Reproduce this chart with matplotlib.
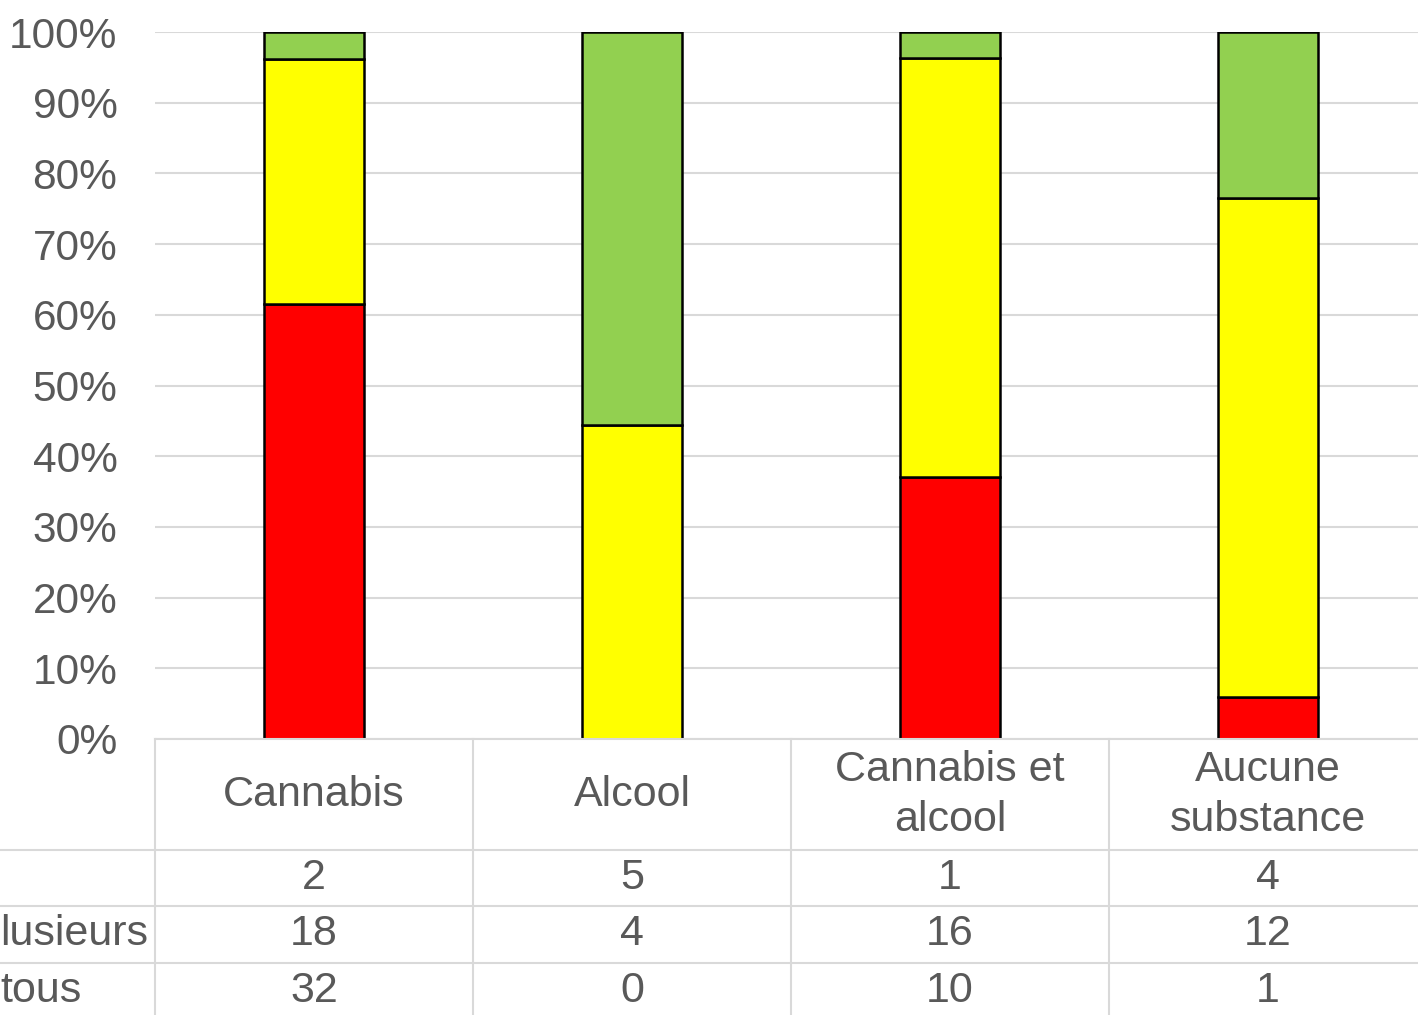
import matplotlib
matplotlib.use("Agg")
import matplotlib.pyplot as plt
from matplotlib.lines import Line2D
import matplotlib.transforms as mtransforms
import numpy as np

categories = ["Cannabis", "Alcool", "Cannabis et\nalcool", "Aucune\nsubstance"]
row_labels = ["", "lusieurs", "tous"]
green_vals = [2, 5, 1, 4]
yellow_vals = [18, 4, 16, 12]
red_vals = [32, 0, 10, 1]
yticks = [0, 10, 20, 30, 40, 50, 60, 70, 80, 90, 100]

colors = {"red": "#FF0000", "yellow": "#FFFF00", "green": "#92D050"}
text_color = "#595959"
grid_color = "#D9D9D9"

plt.rcParams['font.family'] = ['Liberation Sans', 'DejaVu Sans']

W, H = 1418, 1015
fig = plt.figure(figsize=(W / 100, H / 100), dpi=100)

def fy(py):
    return 1 - py / H

# plot area extends slightly past the right edge (cropped chart)
ax = fig.add_axes([155 / W, fy(739), 1272 / W, fy(32) - fy(739)])

g = np.array(green_vals, float)
yv = np.array(yellow_vals, float)
r = np.array(red_vals, float)
tot = g + yv + r
rp, yp, gp = r / tot * 100, yv / tot * 100, g / tot * 100
x = np.arange(len(categories))
bw = 0.315
ax.bar(x, rp, bw, color=colors["red"], edgecolor="black", linewidth=1.8, zorder=3)
ax.bar(x, yp, bw, bottom=rp, color=colors["yellow"], edgecolor="black", linewidth=1.8, zorder=3)
ax.bar(x, gp, bw, bottom=rp + yp, color=colors["green"], edgecolor="black", linewidth=1.8, zorder=3)

ax.set_xlim(-0.5, len(categories) - 0.5)
ax.set_ylim(0, 100)
ax.set_yticks(yticks)
ax.set_yticklabels([f"{t}%" for t in yticks], fontsize=30.5, color=text_color)
ax.tick_params(axis='y', length=0, pad=27)
ax.tick_params(axis='x', length=0, labelbottom=False)
for s in ax.spines.values():
    s.set_visible(False)
ax.yaxis.grid(True, color=grid_color, linewidth=1.5, zorder=0)
ax.set_axisbelow(True)

# data table
blend = mtransforms.blended_transform_factory(ax.transData, fig.transFigure)
lw = 1.5
bounds = np.arange(len(categories) + 1) - 0.5
for b in bounds:
    fig.add_artist(Line2D([b, b], [fy(739), fy(1015)], transform=blend, color=grid_color, lw=lw, clip_on=False))
for py in [850, 906, 963]:
    fig.add_artist(Line2D([0, 1], [fy(py), fy(py)], transform=fig.transFigure, color=grid_color, lw=lw))
fig.add_artist(Line2D([-0.5, len(categories) - 0.5], [fy(739), fy(739)], transform=blend, color=grid_color, lw=lw))

fs = 31
for i, c in enumerate(categories):
    fig.text(i, fy(795), c, transform=blend, ha='center', va='center', fontsize=fs,
             color=text_color, linespacing=1.32, multialignment='center')

rows = [green_vals, yellow_vals, red_vals]
row_centers = [878, 934, 991]
for vals, lab, pc in zip(rows, row_labels, row_centers):
    for i, v in enumerate(vals):
        fig.text(i, fy(pc), str(v), transform=blend, ha='center', va='center', fontsize=fs, color=text_color)
    if lab:
        fig.text(0.0, fy(pc), lab, ha='left', va='center', fontsize=fs, color=text_color)

fig.savefig("out.png", dpi=100)
